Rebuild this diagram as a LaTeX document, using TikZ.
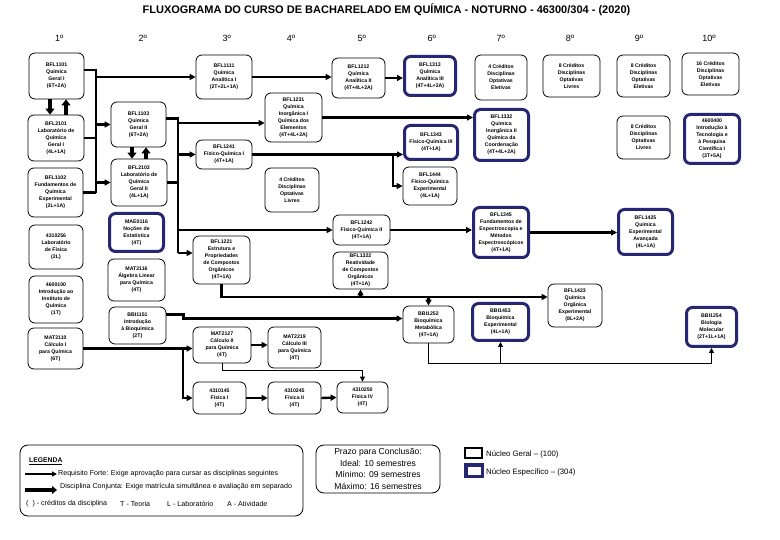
\documentclass[tikz,border=0pt]{standalone}
\usepackage{fontspec}
\setmainfont{Liberation Sans}
\usetikzlibrary{arrows.meta,calc}
\definecolor{navy}{RGB}{38,38,115}
\tikzset{
  box/.style={draw, line width=0.8pt, rounded corners=6pt, align=center, inner sep=0pt,
    font=\fontsize{5.2}{7}\selectfont\bfseries, fill=white},
  bbox/.style={box, draw=navy, line width=3pt},
  req/.style={line width=2.4pt, -{Triangle[length=6pt,width=6pt]}},
  reqline/.style={line width=2.4pt},
  thinline/.style={line width=1pt},
  thinarr/.style={line width=1pt, -{Triangle[length=5pt,width=5pt]}},
  conj/.style={line width=3.5pt, -{Triangle[length=6pt,width=9pt]}},
  sem/.style={font=\fontsize{9}{10}\selectfont},
  legtxt/.style={anchor=west, inner sep=0pt, font=\fontsize{7.1}{7.5}\selectfont},
}
\newcommand\bx[7]{\node[#6, minimum width={(#4)-(#2)}, minimum height={(#5)-(#3)}] (#1) at ({((#2)+(#4))/2},{((#3)+(#5))/2}) {#7};}
\newcommand\bbx[6]{\node[bbox, minimum width={(#4)-(#2)-3}, minimum height={(#5)-(#3)-3}] (#1) at ({((#2)+(#4))/2},{((#3)+(#5))/2}) {#6};}
\begin{document}
\begin{tikzpicture}[x=1pt,y=-1pt]
\fill[white] (0,0) rectangle (780,540);
\useasboundingbox (0,0) rectangle (780,540);

\node[font=\fontsize{11}{12}\selectfont\bfseries] (title) at (386.5,10) {FLUXOGRAMA DO CURSO DE BACHARELADO EM QUÍMICA - NOTURNO - 46300/304 - (2020)};

\node[sem] (s1) at (59.3,38.5) {1º};
\node[sem] (s2) at (142.7,38.5) {2º};
\node[sem] (s3) at (226.7,38.5) {3º};
\node[sem] (s4) at (291,38.5) {4º};
\node[sem] (s5) at (361.7,38.5) {5º};
\node[sem] (s6) at (431.7,38.5) {6º};
\node[sem] (s7) at (500.7,38.5) {7º};
\node[sem] (s8) at (570,38.5) {8º};
\node[sem] (s9) at (639,38.5) {9º};
\node[sem] (s10) at (709,38.5) {10º};

% column 1
\bx{n1101}{29}{53}{84}{99}{box}{BFL1101\\Química\\Geral I\\(6T+2A)}
\bx{n2101}{28}{115}{84}{161}{box}{BFL2101\\Laboratório de\\Química\\Geral I\\(4L+1A)}
\bx{n1102}{28}{168}{83}{217}{box}{BFL1102\\Fundamentos de\\Química\\Experimental\\(2L+1A)}
\bx{n0256}{29}{225}{83}{269}{box}{4310256\\Laboratório\\de Física\\(2L)}
\bx{n0100}{29}{276}{83}{323}{box}{4600100\\Introdução ao\\Instituto de\\Química\\(1T)}
\bx{n2110}{28}{328}{83}{369}{box}{MAT2110\\Cálculo I\\para Química\\(6T)}
% column 2
\bx{n1103}{111}{102}{166}{147}{box}{BFL1103\\Química\\Geral II\\(6T+2A)}
\bx{n2103}{111}{159}{167}{206}{box}{BFL2103\\Laboratório de\\Química\\Geral II\\(4L+1A)}
\bbx{nMAE}{108}{212}{165}{253}{MAE0116\\Noções de\\Estatística\\(4T)}
\bx{n2116}{108}{259}{165}{301}{box}{MAT2116\\Álgebra Linear\\para Química\\(4T)}
\bx{n1151}{109}{307}{166}{344}{box}{BBI1151\\Introdução\\à Bioquímica\\(2T)}
% column 3
\bx{n1111}{196}{55}{252}{99}{box}{BFL1111\\Química\\Analítica I\\(2T+2L+1A)}
\bx{n1241}{196}{140}{252}{169}{box}{BFL1241\\Físico-Química I\\(4T+1A)}
\bx{n1221}{193}{236}{250}{284}{box}{BFL1221\\Estrutura e\\Propriedades\\de Compostos\\Orgânicos\\(4T+1A)}
\bx{n2127}{193}{327}{251}{363}{box}{MAT2127\\Cálculo II\\para Química\\(4T)}
\bx{n0145}{193}{382}{246}{414}{box}{4310145\\Física I\\(4T)}
% column 4
\bx{n1231}{265}{93}{322}{142}{box}{BFL1231\\Química\\Inorgânica I\\Química dos\\Elementos\\(4T+4L+2A)}
\bx{n4a}{265}{168}{319}{212}{box}{4 Créditos\\Disciplinas\\Optativas\\Livres}
\bx{n2219}{268}{327}{321}{368}{box}{MAT2219\\Cálculo III\\para Química\\(4T)}
\bx{n0245}{268}{382}{321}{414}{box}{4310245\\Física II\\(4T)}
% column 5
\bx{n1212}{332}{58}{385}{98}{box}{BFL1212\\Química\\Analítica II\\(4T+4L+2A)}
\bx{n1242}{333}{215}{390}{245}{box}{BFL1242\\Físico-Química II\\(4T+1A)}
\bx{n1322}{333}{252}{388}{289}{box}{BFL1322\\Reatividade\\de Compostos\\Orgânicos\\(4T+1A)}
\bx{n0250}{337}{382}{388}{413}{box}{4310250\\Física IV\\(4T)}
% column 6
\bbx{n1313}{403}{55}{457}{97}{BFL1313\\Química\\Analítica III\\(4T+4L+2A)}
\bbx{n1343}{403}{124}{459}{161}{BFL1343\\Físico-Química III\\(4T+1A)}
\bx{n1444}{403}{167}{457}{205}{box}{BFL1444\\Físico-Química\\Experimental\\(4L+1A)}
\bx{n1252}{403}{306}{454}{343}{box}{BBI1252\\Bioquímica\\Metabólica\\(4T+1A)}
% column 7
\bx{n7a}{475}{55}{527}{100}{box}{4 Créditos\\Disciplinas\\Optativas\\Eletivas}
\bbx{n1332}{473}{108}{530}{162}{BFL1332\\Química\\Inorgânica II\\Química da\\Coordenação\\(4T+4L+2A)}
\bbx{n1345}{472}{206}{530}{259}{BFL1345\\Fundamentos de\\Espectroscopia e\\Métodos\\Espectroscópicos\\(4T+1A)}
\bbx{n1453}{471}{302}{530}{342}{BBI1453\\Bioquímica\\Experimental\\(4L+1A)}
% column 8
\bx{n8a}{543}{55}{600}{97}{box}{8 Créditos\\Disciplinas\\Optativas\\Livres}
\bx{n1423}{548}{284}{602}{327}{box}{BFL1423\\Química\\Orgânica\\Experimental\\(8L+2A)}
% column 9
\bx{n9a}{617}{55}{670}{97}{box}{8 Créditos\\Disciplinas\\Optativas\\Eletivas}
\bx{n9b}{617}{116}{670}{159}{box}{8 Créditos\\Disciplinas\\Optativas\\Livres}
\bbx{n1425}{617}{208}{674}{256}{BFL1425\\Química\\Experimental\\Avançada\\(4L+1A)}
% column 10
\bx{n10a}{682}{53}{739}{95}{box}{16 Créditos\\Disciplinas\\Optativas\\Eletivas}
\bbx{n4600}{683}{113}{741}{165}{4600400\\Introdução à\\Tecnologia e\\à Pesquisa\\Científica I\\(3T+5A)}
\bbx{n1254}{685}{306}{738}{348}{BBI1254\\Biologia\\Molecular\\(2T+1L+1A)}

% helper coordinates
\coordinate (busA) at (96,70);
\coordinate (busAb) at (96,193);
\coordinate (busB) at (178,118);
\coordinate (busBb) at (178,253);
\coordinate (y123) at (0,123);
\coordinate (y297) at (0,297);
\coordinate (y364) at (0,364);
\coordinate (y371) at (0,371);
\coordinate (jF) at (393,0);
\coordinate (x183) at (183,0);
\coordinate (x50) at (50,0);
\coordinate (x66) at (66,0);
\coordinate (x132) at (132,0);
\coordinate (x146) at (146,0);

% bus A
\draw[reqline] ([yshift=6pt]n1101.east) -| (busAb);
\draw[reqline] (n1102.east) -- (n1102.east -| busA);
\draw[reqline] (n2101.east) -- (n2101.east -| busA);
\draw[req] (n1111.west -| busA) -- (n1111.west);
\draw[req] (n1103.west -| busA) -- (n1103.west);
\draw[req] (n2103.west -| busA) -- (n2103.west);
% bus B
\draw[reqline] ([yshift=6pt]n1103.east) -| (busBb);
\draw[reqline] (n2103.east) -- (n2103.east -| busB);
\draw[req] (busB |- y123) -- (n1231.west |- y123);
\draw[req] (n1241.west -| busB) -- (n1241.west);
\draw[req] (n1242.west -| busB) -- (n1242.west);
\draw[req] (busBb) -- (n1221.west |- busBb);
% chains
\draw[req] (n1111.east) -- (n1111.east -| n1212.west);
\draw[req] (n1212.east) -- (n1212.east -| n1313.west);
\draw[req] (n1231.east) -- (n1231.east -| n1332.west);
\draw[req] (n1241.east) -- (n1241.east -| n1343.west);
\draw[req] (n1241.east -| jF) |- (n1444.west);
\draw[req] (n1242.east) -- (n1242.east -| n1345.west);
\draw[req] (n1345.east) -- (n1345.east -| n1425.west);
\draw[req] (n1221.south) |- (n1423.west |- y297);
\draw[req] (n1322.south |- y297) -- (n1322.south);
\draw[req] (n1252.north |- y297) -- (n1252.north);
\draw[req] ([yshift=11pt]n1151.east) -- ++(17,0) |- ([yshift=6pt]n1252.west);
\draw[req] (n2110.east) -- (n2110.east -| n2127.west);
\draw[req] (n2110.east -| x183) |- (n0145.west);
\draw[req] (n2127.east) -- (n2127.east -| n2219.west);
\draw[thinarr] (n2127.south) |- (n0250.north |- y371) -- (n0250.north);
\draw[req] (n0145.east) -- (n0245.west);
\draw[req] (n0245.east) -- (n0250.west);
\draw[thinline] (n1252.south) |- (n1254.south |- y364);
\draw[thinarr] (n1254.south |- y364) -- (n1254.south);
\draw[thinarr] (n1453.south |- y364) -- (n1453.south);
% conjunta
\draw[conj] (n1101.south -| x50) -- (n2101.north -| x50);
\draw[conj] (n2101.north -| x66) -- (n1101.south -| x66);
\draw[conj] (n1103.south -| x132) -- (n2103.north -| x132);
\draw[conj] (n2103.north -| x146) -- (n1103.south -| x146);

% legend
\node[draw, rounded corners=8pt, line width=0.8pt, minimum width=283, minimum height=71] (leg) at (161.5,480.5) {};
\node[legtxt, font=\fontsize{6.8}{7}\selectfont\bfseries] (legt) at (29,461) {\underline{LEGENDA}};
\coordinate (la1) at (25,474);
\coordinate (la1e) at (57,474);
\coordinate (la2) at (25,490);
\coordinate (la2e) at (57,490);
\draw[line width=1.5pt, -{Triangle[length=5pt,width=5pt]}] (la1) -- (la1e);
\draw[line width=4pt, -{Triangle[length=5pt,width=8pt]}] (la2) -- (la2e);
\node[legtxt] (lt1) at (58,474) {Requisito Forte: Exige aprovação para cursar as disciplinas seguintes};
\node[legtxt] (lt2) at (60,487) {Disciplina Conjunta: Exige matrícula simultânea e avaliação em separado};
\node[legtxt] (lt3) at (26,504) {(\ \ ) - créditos da disciplina};
\node[legtxt] (lt4) at (120,504) {T - Teoria};
\node[legtxt] (lt5) at (167,504) {L - Laboratório};
\node[legtxt] (lt6) at (227,504) {A - Atividade};

\node[draw, rounded corners=8pt, line width=0.8pt, minimum width=124, minimum height=48, align=center, inner sep=0pt, font=\fontsize{8.6}{11.4}\selectfont] (prazo) at (378,469) {Prazo para Conclusão:\\Ideal: 10 semestres\\Mínimo: 09 semestres\\Máximo: 16 semestres};

\node[draw, line width=1.5pt, minimum width=17, minimum height=10, inner sep=0pt] (sw1) at (473.5,453) {};
\node[draw=navy, line width=3.5pt, minimum width=16.5, minimum height=11.5, inner sep=0pt] (sw2) at (474,470.5) {};
\node[anchor=west, inner sep=0pt, font=\fontsize{7.8}{8}\selectfont] (sw1t) at (486,454) {Núcleo Geral – (100)};
\node[anchor=west, inner sep=0pt, font=\fontsize{7.8}{8}\selectfont] (sw2t) at (486,472) {Núcleo Específico – (304)};
\end{tikzpicture}
\end{document}
